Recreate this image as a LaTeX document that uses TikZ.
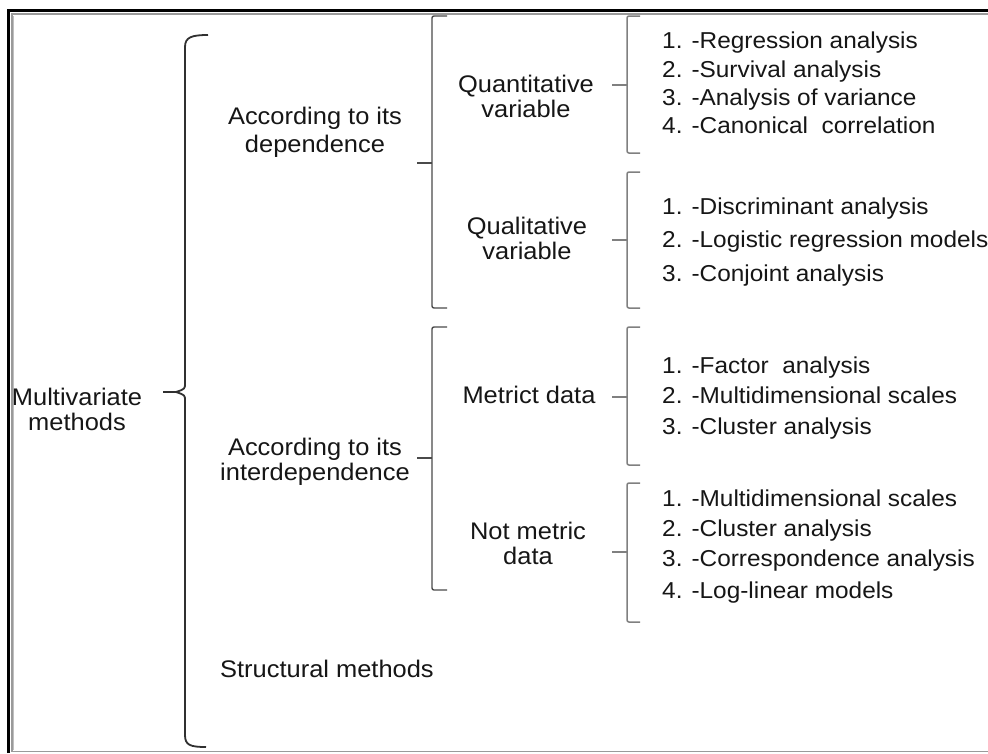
\documentclass[tikz,border=0pt]{standalone}
\usepackage{fontspec}
\setmainfont[FakeStretch=1.06]{Liberation Sans}
\definecolor{txt}{HTML}{161616}
\definecolor{braceA}{HTML}{303030}
\definecolor{braceB}{HTML}{4A4A4A}
\definecolor{braceC}{HTML}{808080}
\definecolor{frameg}{HTML}{9A9A9A}
\tikzset{
  lbl/.style={inner sep=0pt, text=txt, font=\fontsize{24}{28}\selectfont, anchor=base},
  item/.style={inner sep=0pt, text=txt, font=\fontsize{23}{27}\selectfont, anchor=base west},
  bigbrace/.style={draw=braceA, line width=1.8pt, line join=round},
  midbrack/.style={draw=braceB, line width=1.4pt, rounded corners=2pt},
  smallbrack/.style={draw=braceC, line width=1.5pt, rounded corners=2pt},
}
\begin{document}
\begin{tikzpicture}[x=1pt,y=-1pt]
\useasboundingbox (0,0) rectangle (988,753);
\fill[white] (0,0) rectangle (988,753);
% frame
\draw[line width=3pt, black] (8.5,753) -- (8.5,10.5) -- (988,10.5);
\draw[line width=1.3pt, frameg] (12,751) -- (12,14) -- (988,14);
\draw[line width=1pt, black!25] (13.8,750) -- (13.8,16);
\draw[line width=1.6pt, frameg] (11,751.5) -- (988,751.5);

% labels
\node[lbl] (mv1) at (77,405) {Multivariate};
\node[lbl] (mv2) at (77,430) {methods};
\node[lbl] (dep1) at (315,124) {According to its};
\node[lbl] (dep2) at (315,152) {dependence};
\node[lbl] (int1) at (315,455) {According to its};
\node[lbl] (int2) at (315,480) {interdependence};
\node[lbl, anchor=base west] (str) at (220,677) {Structural methods};
\node[lbl] (qn1) at (526,92) {Quantitative};
\node[lbl] (qn2) at (526,117) {variable};
\node[lbl] (ql1) at (527,234) {Qualitative};
\node[lbl] (ql2) at (527,259) {variable};
\node[lbl] (met) at (529,403) {Metrict data};
\node[lbl] (nm1) at (528,539) {Not metric};
\node[lbl] (nm2) at (528,564) {data};

% lists
\node[item] (a1) at (662,48) {1. -Regression analysis};
\node[item] (a2) at (662,77) {2. -Survival analysis};
\node[item] (a3) at (662,105) {3. -Analysis of variance};
\node[item] (a4) at (662,133) {4. -Canonical~ correlation};
\node[item] (b1) at (662,214) {1. -Discriminant analysis};
\node[item] (b2) at (662,247) {2. -Logistic regression models};
\node[item] (b3) at (662,281) {3. -Conjoint analysis};
\node[item] (c1) at (662,373) {1. -Factor~ analysis};
\node[item] (c2) at (662,403) {2. -Multidimensional scales};
\node[item] (c3) at (662,434) {3. -Cluster analysis};
\node[item] (d1) at (662,506) {1. -Multidimensional scales};
\node[item] (d2) at (662,536) {2. -Cluster analysis};
\node[item] (d3) at (662,566) {3. -Correspondence analysis};
\node[item] (d4) at (662,598) {4. -Log-linear models};

% main brace
\coordinate (mtip) at (163,392);
\draw[bigbrace] (208,35) .. controls (192,35) and (185,37) .. (185,47)
  -- (185,383) .. controls (185,389) .. (176,392) -- (mtip);
\draw[bigbrace] (176,392) .. controls (185,395) .. (185,401)
  -- (185,735) .. controls (185,745) and (190,747) .. (206,747);

% second level
\coordinate (dtip) at (417,163);
\coordinate (itip) at (417,458);
\draw[midbrack] (447,16) -- (432,16) -- (432,308) -- (447,308);
\draw[midbrack] (432,163) -- (dtip);
\draw[midbrack] (447,327) -- (432,327) -- (432,590) -- (447,590);
\draw[midbrack] (432,458) -- (itip);

% third level
\draw[smallbrack] (640,16) -- (627,16) -- (627,153) -- (640,153);
\draw[smallbrack] (627,85) -- (612,85);
\draw[smallbrack] (640,172) -- (627,172) -- (627,308) -- (640,308);
\draw[smallbrack] (627,240) -- (612,240);
\draw[smallbrack] (640,327) -- (627,327) -- (627,465) -- (640,465);
\draw[smallbrack] (627,397) -- (612,397);
\draw[smallbrack] (640,483) -- (627,483) -- (627,622) -- (640,622);
\draw[smallbrack] (627,552) -- (612,552);
\end{tikzpicture}
\end{document}
